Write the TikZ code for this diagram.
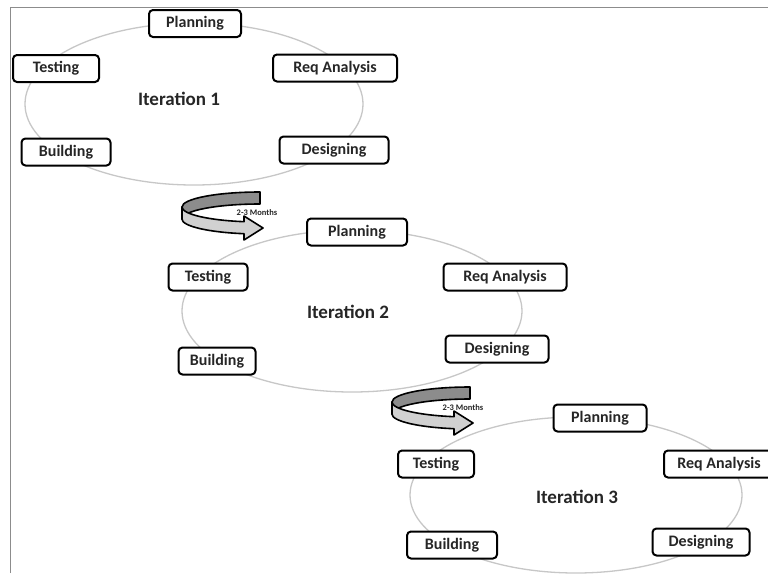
\documentclass[tikz,border=0pt]{standalone}
\usepackage{fontspec}
\setmainfont{Carlito}
\tikzset{
  turnarrow/.pic={
    \draw[line width=1.6pt, fill=black!45, line join=round]
      (0,-15) arc[start angle=90,end angle=180,x radius=78pt,y radius=15pt]
      -- (-78,12) arc[start angle=180,end angle=90,x radius=78pt,y radius=15pt] -- cycle;
    \draw[line width=1.6pt, fill=black!18, line join=round]
      (-78,0) arc[start angle=180,end angle=258.2,x radius=78pt,y radius=15pt]
      -- (-16,9) -- (3,21) -- (-16,33) -- (-16,26.7)
      arc[start angle=258.2,end angle=180,x radius=78pt,y radius=15pt] -- cycle;
  }
}
\begin{document}
\begin{tikzpicture}[x=1pt,y=-1pt,
  stage/.style={draw=black, line width=2pt, rounded corners=4pt, fill=white,
    minimum height=27pt, inner sep=0pt,
    font=\fontsize{16}{18}\selectfont\bfseries, text=black!85},
  iter/.style={font=\fontsize{19}{22}\selectfont\bfseries, text=black!85},
  orbit/.style={draw=black!22, line width=1.3pt},
  months/.style={font=\fontsize{8.5}{9}\selectfont\bfseries, text=black!85, inner sep=0pt}
]
\useasboundingbox (0,0) rectangle (768,573);
\clip (0,0) rectangle (768,573);
\fill[white] (0,0) rectangle (768,573);

% frame
\draw[black!45, line width=1.5pt] (10.5,573) -- (10.5,7.5) -- (768,7.5);

% cycles
\draw[orbit] (194,104) ellipse[x radius=169pt, y radius=81pt];
\draw[orbit] (352,311) ellipse[x radius=170pt, y radius=81pt];
\draw[orbit] (576,495) ellipse[x radius=166pt, y radius=78pt];

% turn arrows
\pic at (260,207) {turnarrow};
\node[months] (m1) at (257,213) {2-3 Months};
\pic at (470,402) {turnarrow};
\node[months] (m2) at (463,408) {2-3 Months};

% Iteration 1
\node[stage, minimum width=92pt]  (p1) at (195,23.5) {Planning};
\node[stage, minimum width=86pt]  (t1) at (56,68.5) {Testing};
\node[stage, minimum width=124pt] (r1) at (335,68) {Req Analysis};
\node[stage, minimum width=89pt]  (b1) at (66,152) {Building};
\node[stage, minimum width=109pt] (d1) at (334,150) {Designing};
\node[iter] (i1) at (179,99) {Iteration 1};

% Iteration 2
\node[stage, minimum width=100pt] (p2) at (357,232) {Planning};
\node[stage, minimum width=79pt]  (t2) at (208,277) {Testing};
\node[stage, minimum width=123pt] (r2) at (505,277) {Req Analysis};
\node[stage, minimum width=103pt] (d2) at (497,349) {Designing};
\node[stage, minimum width=77pt]  (b2) at (217,361) {Building};
\node[iter] (i2) at (348,312) {Iteration 2};

% Iteration 3
\node[stage, minimum width=93pt]  (p3) at (600,418) {Planning};
\node[stage, minimum width=76pt]  (t3) at (436,464) {Testing};
\node[stage, minimum width=110pt] (r3) at (719,464) {Req Analysis};
\node[stage, minimum width=90pt]  (b3) at (452,545) {Building};
\node[stage, minimum width=97pt]  (d3) at (701,542) {Designing};
\node[iter] (i3) at (577,497) {Iteration 3};
\end{tikzpicture}
\end{document}
